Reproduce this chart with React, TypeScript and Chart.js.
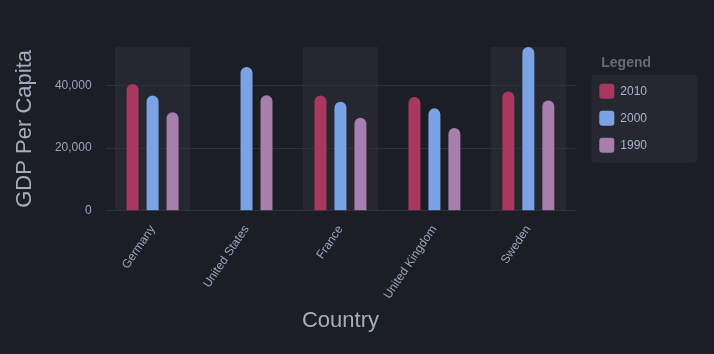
import React, { useEffect, useRef } from 'react';
import { Chart, registerables } from 'chart.js';
Chart.register(...registerables);

const countries = ['Germany', 'United States', 'France', 'United Kingdom', 'Sweden'];
const years = ['2010', '2000', '1990'];
const gdp2010 = [40500, null, 36800, 36300, 38100];
const gdp2000 = [36800, 45900, 34800, 32700, 52300];
const gdp1990 = [31500, 36900, 29700, 26400, 35200];
const seriesColors = ['#a8385d', '#7aa3e5', '#a67fac'];
const yTicks = [0, 20000, 40000];
const yMax = 52300;

const BG = '#1c1e26';
const BAND = '#262831';
const GRID = '#2f313d';
const FONT = "'Liberation Sans', Arial, sans-serif";

const decor = {
  id: 'decor',
  beforeLayout(chart: any) {
    const lg = chart.legend;
    if (lg && !lg._widened) {
      const fit = lg.fit;
      lg.fit = function () {
        fit.call(this);
        this.width += 8;
      };
      lg._widened = true;
    }
  },
  afterLayout(chart: any) {
    const lg = chart.legend;
    if (lg) {
      lg.left += 12;
      lg.right += 12;
    }
  },
  beforeDraw(chart: any) {
    const { ctx, chartArea, scales } = chart;
    const x = scales.x;
    const cw = (chartArea.right - chartArea.left) / countries.length;
    ctx.save();
    ctx.fillStyle = BAND;
    countries.forEach((_, i) => {
      if (i % 2 === 0) {
        const cx = x.getPixelForValue(i);
        ctx.fillRect(cx - cw * 0.4, chartArea.top, cw * 0.8, chartArea.bottom - chartArea.top);
      }
    });
    const lg = chart.legend;
    if (lg && lg.legendHitBoxes && lg.legendHitBoxes.length) {
      const hb = lg.legendHitBoxes;
      const top = Math.min(...hb.map((h: any) => h.top)) - 9;
      const bottom = Math.max(...hb.map((h: any) => h.top + h.height)) + 10;
      const left = Math.min(...hb.map((h: any) => h.left)) - 8;
      ctx.beginPath();
      (ctx as any).roundRect(left, top, 106, bottom - top, 4);
      ctx.fill();
    }
    ctx.restore();
  },
};

export default function App() {
  const ref = useRef<HTMLCanvasElement>(null);
  useEffect(() => {
    document.body.style.margin = '0';
    document.body.style.background = BG;
    const chart = new Chart(ref.current!, {
      type: 'bar',
      data: {
        labels: countries,
        datasets: [gdp2010, gdp2000, gdp1990].map((d, i) => ({
          label: years[i],
          data: d,
          backgroundColor: seriesColors[i],
          borderRadius: 6,
          borderSkipped: 'start',
          categoryPercentage: 0.638,
          barPercentage: 0.6,
        })),
      },
      options: {
        animation: false,
        responsive: true,
        maintainAspectRatio: false,
        font: { family: FONT },
        layout: { padding: { top: 47, left: 6, right: 61, bottom: 18 } },
        plugins: {
          tooltip: { enabled: false },
          legend: {
            position: 'right',
            align: 'start',
            title: {
              display: true,
              text: 'Legend',
              color: '#6b6778',
              font: { family: FONT, size: 14, weight: 'bold' },
              padding: { top: 9, bottom: -1 },
              position: 'center',
            },
            labels: {
              boxWidth: 15,
              boxHeight: 15,
              padding: 12,
              color: '#aab4cb',
              font: { family: FONT, size: 12 },
              useBorderRadius: true,
              borderRadius: 3,
            },
          },
        },
        scales: {
          x: {
            grid: { display: false, drawTicks: false },
            border: { display: false },
            ticks: {
              color: '#9aa5bd',
              font: { family: FONT, size: 12 },
              maxRotation: 56,
              minRotation: 56,
              padding: 12,
            },
            title: {
              display: true,
              text: 'Country',
              color: '#a5adc0',
              font: { family: FONT, size: 22 },
              padding: { top: -6, bottom: 2 },
            },
          },
          y: {
            min: 0,
            max: yMax,
            grid: { color: GRID, drawTicks: false, lineWidth: 1 },
            border: { display: false },
            afterBuildTicks: (scale: any) => {
              scale.ticks = yTicks.map((v) => ({ value: v }));
            },
            ticks: {
              color: '#9aa5bd',
              font: { family: FONT, size: 12 },
              padding: 14,
              callback: (v: any) => Number(v).toLocaleString('en-US'),
            },
            title: {
              display: true,
              text: 'GDP Per Capita',
              color: '#a5adc0',
              font: { family: FONT, size: 22 },
              padding: { top: 6, bottom: 2.5 },
            },
          },
        },
      },
      plugins: [decor],
    });
    return () => chart.destroy();
  }, []);
  return (
    <div style={{ position: 'fixed', left: 0, top: 0, width: 714, height: 354, background: BG }}>
      <canvas ref={ref} />
    </div>
  );
}
